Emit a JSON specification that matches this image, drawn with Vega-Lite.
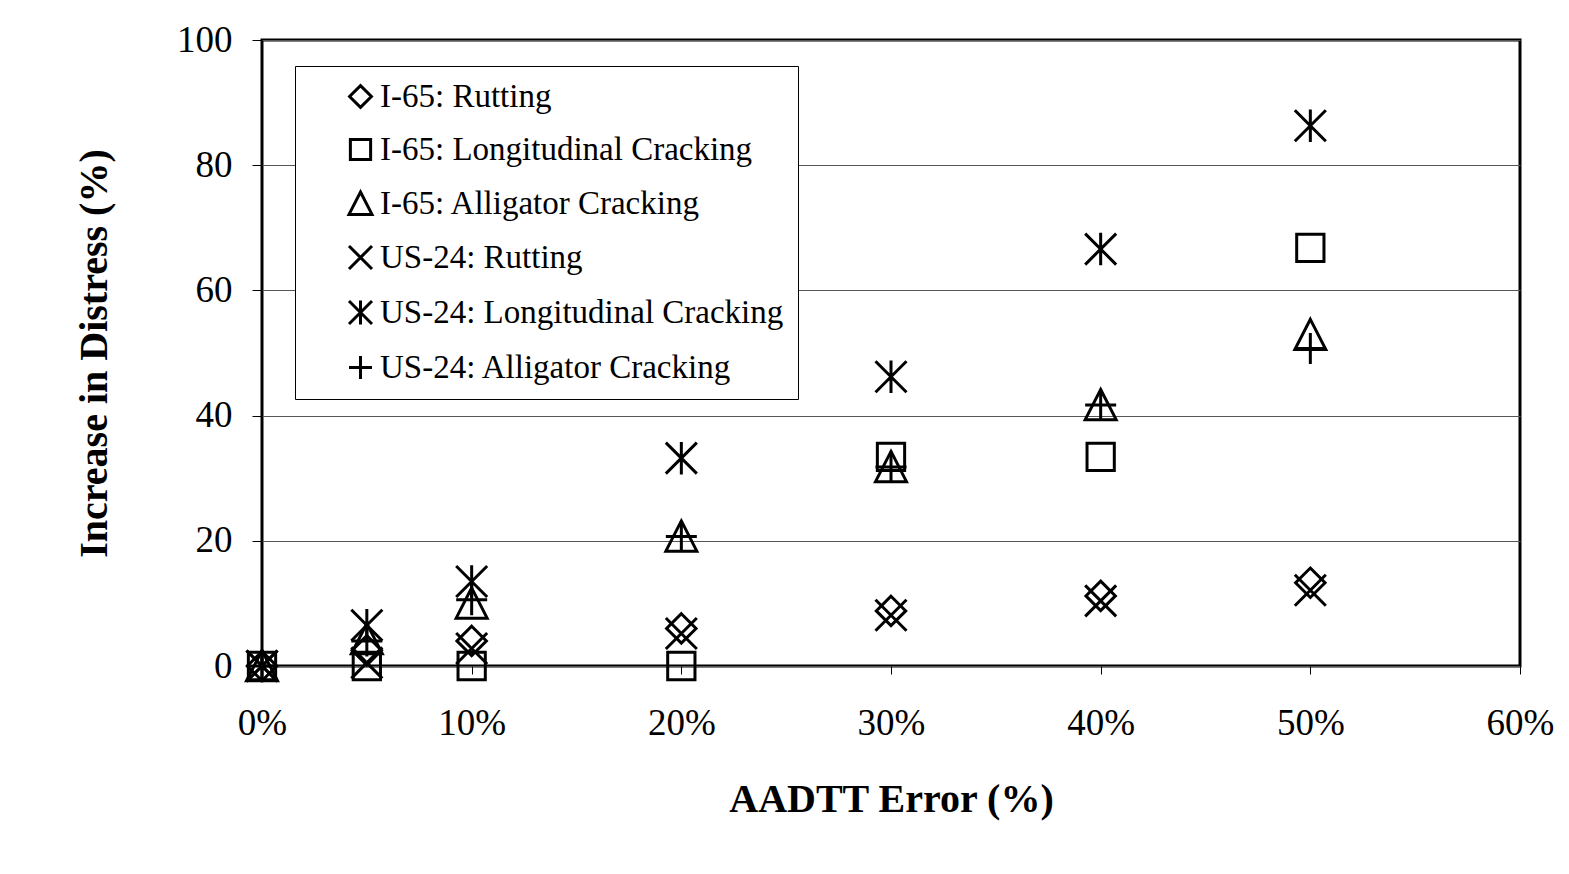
{
  "$schema": "https://vega.github.io/schema/vega-lite/v6.json",
  "width": 1258,
  "height": 626,
  "autosize": "none",
  "padding": {"left": 262, "top": 40, "right": 49, "bottom": 208},
  "background": "white",
  "config": {
    "font": "Liberation Serif",
    "view": {"stroke": "black", "strokeWidth": 3},
    "axis": {
      "labelFont": "Liberation Serif",
      "labelFontSize": 37,
      "labelColor": "black",
      "titleFont": "Liberation Serif",
      "titleFontSize": 40,
      "titleFontWeight": "bold",
      "titleColor": "black",
      "domain": false,
      "tickColor": "black",
      "tickWidth": 1
    }
  },
  "data": {
    "values": [
      {"error": 0, "series": "I-65: Rutting", "value": 0},
      {"error": 0.05, "series": "I-65: Rutting", "value": 2.5},
      {"error": 0.1, "series": "I-65: Rutting", "value": 4},
      {"error": 0.2, "series": "I-65: Rutting", "value": 6},
      {"error": 0.3, "series": "I-65: Rutting", "value": 8.8},
      {"error": 0.4, "series": "I-65: Rutting", "value": 11.2},
      {"error": 0.5, "series": "I-65: Rutting", "value": 13.3},
      {"error": 0, "series": "I-65: Longitudinal Cracking", "value": 0},
      {"error": 0.05, "series": "I-65: Longitudinal Cracking", "value": 0},
      {"error": 0.1, "series": "I-65: Longitudinal Cracking", "value": 0},
      {"error": 0.2, "series": "I-65: Longitudinal Cracking", "value": 0},
      {"error": 0.3, "series": "I-65: Longitudinal Cracking", "value": 33.4},
      {"error": 0.4, "series": "I-65: Longitudinal Cracking", "value": 33.4},
      {"error": 0.5, "series": "I-65: Longitudinal Cracking", "value": 66.8},
      {"error": 0, "series": "I-65: Alligator Cracking", "value": 0},
      {"error": 0.05, "series": "I-65: Alligator Cracking", "value": 4.3},
      {"error": 0.1, "series": "I-65: Alligator Cracking", "value": 10},
      {"error": 0.2, "series": "I-65: Alligator Cracking", "value": 20.7},
      {"error": 0.3, "series": "I-65: Alligator Cracking", "value": 31.8},
      {"error": 0.4, "series": "I-65: Alligator Cracking", "value": 41.7},
      {"error": 0.5, "series": "I-65: Alligator Cracking", "value": 52.9},
      {"error": 0, "series": "US-24: Rutting", "value": 0},
      {"error": 0.05, "series": "US-24: Rutting", "value": 0.5},
      {"error": 0.1, "series": "US-24: Rutting", "value": 2.8},
      {"error": 0.2, "series": "US-24: Rutting", "value": 5.2},
      {"error": 0.3, "series": "US-24: Rutting", "value": 8.1},
      {"error": 0.4, "series": "US-24: Rutting", "value": 10.4},
      {"error": 0.5, "series": "US-24: Rutting", "value": 12.1},
      {"error": 0, "series": "US-24: Longitudinal Cracking", "value": 0},
      {"error": 0.05, "series": "US-24: Longitudinal Cracking", "value": 6.5},
      {"error": 0.1, "series": "US-24: Longitudinal Cracking", "value": 13.5},
      {"error": 0.2, "series": "US-24: Longitudinal Cracking", "value": 33.2},
      {"error": 0.3, "series": "US-24: Longitudinal Cracking", "value": 46.2},
      {"error": 0.4, "series": "US-24: Longitudinal Cracking", "value": 66.6},
      {"error": 0.5, "series": "US-24: Longitudinal Cracking", "value": 86.3},
      {"error": 0, "series": "US-24: Alligator Cracking", "value": 0},
      {"error": 0.05, "series": "US-24: Alligator Cracking", "value": 4},
      {"error": 0.1, "series": "US-24: Alligator Cracking", "value": 10.6},
      {"error": 0.2, "series": "US-24: Alligator Cracking", "value": 20.7},
      {"error": 0.3, "series": "US-24: Alligator Cracking", "value": 31.8},
      {"error": 0.4, "series": "US-24: Alligator Cracking", "value": 41.7},
      {"error": 0.5, "series": "US-24: Alligator Cracking", "value": 50.7}
    ]
  },
  "mark": {"type": "point", "filled": false, "color": "black", "stroke": "black", "strokeWidth": 3, "size": 961, "opacity": 1},
  "encoding": {
    "x": {
      "field": "error",
      "type": "quantitative",
      "scale": {"domain": [0, 0.6], "nice": false},
      "axis": {
        "title": "AADTT Error (%)",
        "format": ".0%",
        "values": [0, 0.1, 0.2, 0.3, 0.4, 0.5, 0.6],
        "grid": false,
        "tickSize": 8,
        "labelPadding": 31,
        "titlePadding": 38,
        "labelFlush": false
      }
    },
    "y": {
      "field": "value",
      "type": "quantitative",
      "scale": {"domain": [0, 100], "nice": false},
      "axis": {
        "title": "Increase in Distress (%)",
        "values": [0, 20, 40, 60, 80, 100],
        "grid": true,
        "gridColor": "#555555",
        "gridWidth": 1,
        "tickSize": 10,
        "labelPadding": 20,
        "titlePadding": 62
      }
    },
    "shape": {
      "field": "series",
      "type": "nominal",
      "sort": null,
      "scale": {
        "domain": ["I-65: Rutting", "I-65: Longitudinal Cracking", "I-65: Alligator Cracking", "US-24: Rutting", "US-24: Longitudinal Cracking", "US-24: Alligator Cracking"],
        "range": [
          "M0,-0.95L0.95,0L0,0.95L-0.95,0Z",
          "M-0.88,-0.88L0.88,-0.88L0.88,0.88L-0.88,0.88Z",
          "M0,-1L1,0.95L-1,0.95Z",
          "M-1,-1L1,1M-1,1L1,-1",
          "M-1,-1L1,1M-1,1L1,-1M0,-1.05L0,1.05",
          "M-1,0L1,0M0,-1L0,1"
        ]
      },
      "legend": {
        "title": null,
        "orient": "none",
        "legendX": 33,
        "legendY": 26,
        "fillColor": "white",
        "strokeColor": "black",
        "padding": 14,
        "symbolOffset": 35,
        "rowPadding": 19,
        "labelFont": "Liberation Serif",
        "labelFontSize": 33,
        "labelColor": "black",
        "labelOffset": 3,
        "labelLimit": 1000,
        "symbolSize": 529,
        "symbolStrokeWidth": 3,
        "symbolStrokeColor": "black",
        "symbolFillColor": "transparent"
      }
    }
  }
}
